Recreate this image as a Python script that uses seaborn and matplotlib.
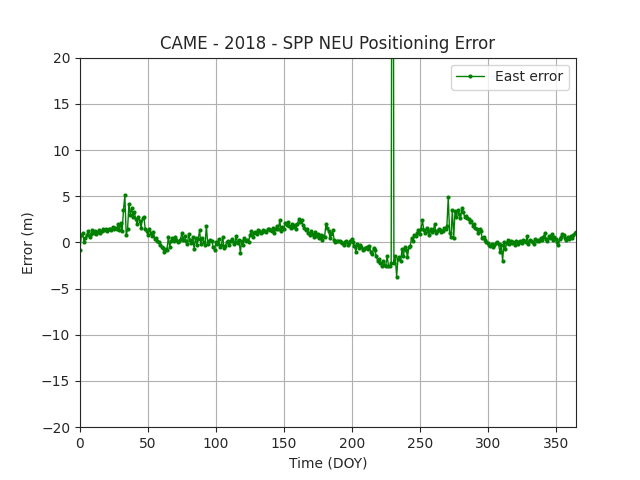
import matplotlib
matplotlib.use("Agg")
import matplotlib.pyplot as plt
import numpy as np
import pandas as pd
import seaborn as sns

east_error = [
    -0.8, 0.8, 1.0, 0.0, 0.5, 0.8, 1.2, 0.6, 0.9, 1.3,
    1.0, 1.2, 0.9, 1.1, 1.3, 1.0, 1.2, 1.4, 1.3, 1.5,
    1.2, 1.4, 1.5, 1.3, 1.7, 1.5, 1.6, 1.4, 2.0, 1.3,
    2.1, 1.2, 3.5, 5.1, 0.8, 1.4, 4.2, 3.0, 3.7, 2.8,
    3.3, 2.5, 2.0, 2.8, 2.3, 1.6, 2.6, 2.7, 1.5, 1.2,
    0.8, 1.5, 1.0, 0.7, 1.1, 0.4, 0.5, 0.2, 0.0, -0.3,
    -0.5, -0.6, -1.0, -0.7, -0.8, 0.6, -0.5, 0.2, 0.5, 0.1,
    0.6, 0.3, 0.0, 0.2, 0.4, 1.0, 0.3, 0.7, 0.2, -0.2,
    0.9, 0.3, -0.1, 0.6, -0.7, 0.5, -0.3, 0.4, 1.3, -0.2,
    0.5, 0.0, -0.3, 1.8, -0.2, 0.1, 0.3, 0.2, -0.5, -0.8,
    0.0, -0.2, 0.4, -0.5, -0.3, 0.6, -0.6, -0.4, 0.0, 0.1,
    -0.3, 0.2, 0.4, -0.2, 0.0, 0.7, -0.1, 0.3, -1.1, 0.2,
    -0.3, 0.5, 0.1, 0.3, 0.0, 0.8, 1.2, 0.6, 1.0, 1.1,
    0.9, 1.3, 1.2, 1.0, 1.1, 1.3, 1.2, 1.1, 1.4, 1.5,
    1.3, 1.2, 1.6, 1.0, 1.5, 1.8, 1.4, 2.4, 1.2, 1.7,
    1.5, 2.1, 1.9, 2.2, 1.8, 1.6, 2.0, 1.7, 1.9, 1.5,
    2.0, 2.5, 2.2, 2.4, 1.9, 1.6, 1.3, 1.5, 1.0, 0.8,
    1.2, 0.9, 0.6, 1.1, 0.7, 0.9, 0.5, 0.8, 0.3, 0.7,
    0.6, 2.0, 1.6, 1.2, 0.5, 0.9, 1.3, 0.3, 0.0, 0.2,
    0.1, 0.2, 0.0, -0.1, -0.3, 0.0, 0.2, -0.3, -0.1, 0.1,
    0.4, 0.0, -0.4, -1.0, -0.2, -0.6, -0.3, -0.5, -0.8, -0.7,
    -0.6, -0.5, -0.7, -0.4, -1.0, -1.3, -0.6, -0.8, -1.5, -2.0,
    -1.8, -2.2, -2.5, -2.0, -2.4, -2.5, -1.5, -2.5, -2.6, -2.2,
    80.0, -2.2, -1.5, -3.7, -1.8, -1.6, -2.0, -0.7, -1.5, -0.5,
    -0.8, -1.6, -0.5, -0.4, 0.5, 0.1, 0.8, 0.7, 1.0, 1.3,
    0.9, 1.5, 2.4, 1.3, 1.0, 1.6, 1.2, 0.8, 1.4, 1.1,
    1.3, 2.0, 1.0, 1.2, 1.5, 1.3, 1.1, 1.2, 1.6, 1.4,
    1.8, 4.9, 1.0, 0.6, 3.5, 0.5, 3.4, 2.8, 3.5, 3.1,
    2.6, 3.7, 3.3, 2.8, 2.9, 2.6, 2.5, 2.2, 2.3, 1.8,
    2.0, 1.6, 1.5, 1.0, 1.4, 1.2, 0.5, 0.6, 0.3, 0.0,
    -0.1, -0.3, -0.4, -0.2, -0.5, -0.3, -0.1, 0.0, -0.2, -1.0,
    -0.3, -2.0, 0.0, -0.7, -0.1, 0.3, -0.2, 0.1, -0.1, 0.0,
    -0.3, 0.2, -0.2, 0.0, 0.1, -0.1, 0.3, 0.2, 0.0, 0.7,
    -0.2, 0.3, 0.1, 0.0, -0.2, 0.4, 0.2, 0.3, 0.1, 0.5,
    0.3, 0.6, 1.0, 0.4, 0.2, 0.7, 0.5, 0.9, 0.3, 0.6,
    0.4, 0.0, -0.3, 0.4, 0.6, 0.9, 0.8, 0.5, 0.3, 0.6,
    0.4, 0.7, 0.5, 0.8, 1.0, 1.1,
]
doy = np.arange(len(east_error))

df = pd.DataFrame({"doy": doy, "east": east_error})

sns.set_style("ticks")
fig, ax = plt.subplots(figsize=(6.4, 4.8), dpi=100)
sns.lineplot(data=df, x="doy", y="east", ax=ax, color="green", marker="o",
             markersize=3, markeredgewidth=0, linewidth=1, label="East error")
ax.set_xlim(0, 365)
ax.set_ylim(-20, 20)
ax.set_yticks(np.arange(-20, 21, 5))
ax.grid(True, color="#b0b0b0", linewidth=0.8)
ax.set_title("CAME - 2018 - SPP NEU Positioning Error")
ax.set_xlabel("Time (DOY)")
ax.set_ylabel("Error (m)")
ax.legend(loc="upper right")
fig.savefig("out.png")
